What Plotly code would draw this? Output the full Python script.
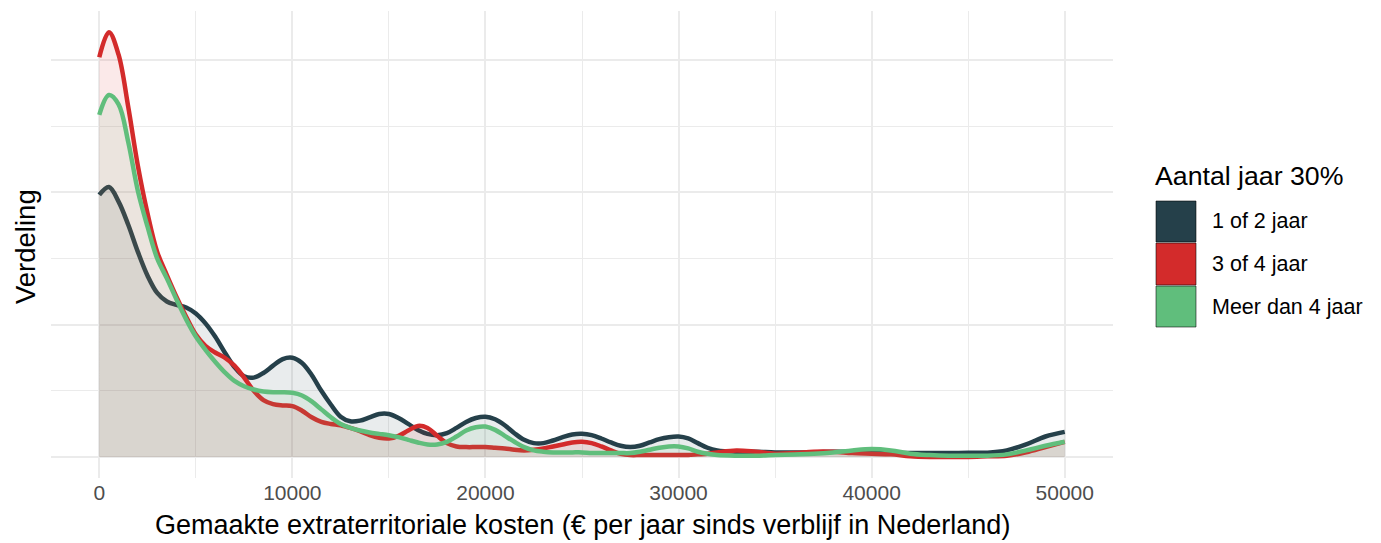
import plotly.graph_objects as go

# kosten-grid (x) en geschatte dichtheid per groep (y, willekeurige eenheid)
kosten = [0, 500, 1000, 1500, 2000, 2500, 3000, 3500, 4000, 4500,
          5000, 5500, 6000, 6500, 7000, 7500, 8000, 8500, 9000, 9500,
          10000, 10500, 11000, 11500, 12000, 12500, 13000, 13500, 14000, 14500,
          15000, 15500, 16000, 16500, 17000, 17500, 18000, 18500, 19000, 19500,
          20000, 20500, 21000, 21500, 22000, 22500, 23000, 23500, 24000, 24500,
          25000, 25500, 26000, 26500, 27000, 27500, 28000, 28500, 29000, 29500,
          30000, 30500, 31000, 31500, 32000, 33000, 34000, 35000, 36000, 37000,
          38000, 39000, 40000, 41000, 42000, 43000, 44000, 45000, 46000, 47000,
          48000, 49000, 50000]

jaar_1_2 = [3.96, 4.08, 3.86, 3.51, 3.10, 2.74, 2.48, 2.35, 2.30, 2.26,
            2.17, 2.02, 1.82, 1.58, 1.36, 1.22, 1.20, 1.27, 1.38, 1.48,
            1.50, 1.42, 1.24, 1.00, 0.79, 0.61, 0.54, 0.55, 0.60, 0.65,
            0.65, 0.59, 0.50, 0.41, 0.35, 0.33, 0.36, 0.44, 0.53, 0.59,
            0.61, 0.57, 0.48, 0.36, 0.26, 0.21, 0.21, 0.25, 0.30, 0.34,
            0.35, 0.33, 0.28, 0.22, 0.17, 0.15, 0.17, 0.22, 0.27, 0.30,
            0.31, 0.28, 0.21, 0.14, 0.10, 0.08, 0.08, 0.07, 0.07, 0.07,
            0.08, 0.08, 0.08, 0.07, 0.06, 0.06, 0.06, 0.065, 0.065, 0.10,
            0.19, 0.31, 0.38]

jaar_3_4 = [6.04, 6.42, 6.08, 5.29, 4.40, 3.68, 3.10, 2.75, 2.42, 2.12,
            1.85, 1.68, 1.58, 1.50, 1.38, 1.20, 1.00, 0.86, 0.80, 0.78,
            0.77, 0.70, 0.60, 0.53, 0.50, 0.48, 0.44, 0.39, 0.33, 0.29,
            0.28, 0.32, 0.40, 0.47, 0.44, 0.32, 0.21, 0.16, 0.15, 0.15,
            0.15, 0.14, 0.13, 0.11, 0.10, 0.11, 0.13, 0.16, 0.19, 0.22,
            0.23, 0.21, 0.16, 0.10, 0.05, 0.03, 0.03, 0.03, 0.03, 0.03,
            0.03, 0.03, 0.04, 0.05, 0.07, 0.10, 0.08, 0.05, 0.06, 0.08,
            0.08, 0.06, 0.05, 0.04, 0.01, 0.00, 0.00, 0.00, 0.01, 0.02,
            0.07, 0.15, 0.23]

meer_dan_4 = [5.17, 5.47, 5.33, 4.76, 4.02, 3.48, 3.00, 2.70, 2.38, 2.08,
              1.82, 1.62, 1.44, 1.28, 1.15, 1.07, 1.02, 0.99, 0.98, 0.98,
              0.97, 0.93, 0.84, 0.72, 0.60, 0.50, 0.44, 0.40, 0.37, 0.35,
              0.33, 0.30, 0.26, 0.22, 0.19, 0.19, 0.23, 0.31, 0.40, 0.45,
              0.46, 0.41, 0.32, 0.23, 0.15, 0.10, 0.08, 0.07, 0.07, 0.07,
              0.07, 0.06, 0.06, 0.06, 0.06, 0.06, 0.08, 0.11, 0.14, 0.16,
              0.16, 0.13, 0.08, 0.05, 0.03, 0.02, 0.02, 0.03, 0.04, 0.05,
              0.07, 0.10, 0.12, 0.10, 0.05, 0.03, 0.02, 0.02, 0.02, 0.04,
              0.10, 0.17, 0.23]

groepen = ["1 of 2 jaar", "3 of 4 jaar", "Meer dan 4 jaar"]
kleuren = ["#25404A", "#D32B2B", "#60BE7C"]
vulkleuren = ["rgba(37,64,74,0.1)", "rgba(211,43,43,0.1)", "rgba(96,190,124,0.1)"]

FONT = "Liberation Sans, Arial, sans-serif"
GRID = "#EBEBEB"

fig = go.Figure()
for naam, ys, kleur, vul in zip(groepen, [jaar_1_2, jaar_3_4, meer_dan_4], kleuren, vulkleuren):
    fig.add_trace(go.Scatter(
        x=kosten, y=ys, name=naam, mode="lines",
        line=dict(color=kleur, width=4.5, shape="spline", smoothing=1),
        fill="tozeroy", fillcolor=vul, showlegend=False,
    ))

# de pagina heeft 8px body-marge; alles in paginapixels rekenen
OFF = 8
W, H = 1381 - OFF, 543 - OFF
L, R, T, B = 51 - OFF, 268, 11 - OFF, 65
pw, ph = W - L - R, H - T - B

def px(x):
    return (x - OFF - L) / pw

def py(y):
    return (H - B - (y - OFF)) / ph

shapes = []
annotations = []
sleutel_y = [(201, 242), (243, 285), (286, 327)]
for (y0, y1), kleur, naam in zip(sleutel_y, kleuren, groepen):
    shapes.append(dict(type="rect", xref="paper", yref="paper",
                       x0=px(1156), x1=px(1196), y0=py(y1), y1=py(y0),
                       fillcolor=kleur, line=dict(color="rgba(0,0,0,0.55)", width=1)))
    annotations.append(dict(xref="paper", yref="paper", x=px(1210), y=py((y0 + y1) / 2),
                            text=naam, showarrow=False, xanchor="left", yanchor="middle",
                            font=dict(family=FONT, size=21.5, color="#000000")))
annotations.append(dict(xref="paper", yref="paper", x=px(1153), y=py(176),
                        text="Aantal jaar 30%", showarrow=False, xanchor="left", yanchor="middle",
                        font=dict(family=FONT, size=26.7, color="#000000")))

# as-titels
annotations.append(dict(xref="paper", yref="paper", x=0.5, y=py(525),
                        text="Gemaakte extraterritoriale kosten (€ per jaar sinds verblijf in Nederland)",
                        showarrow=False, xanchor="center", yanchor="middle",
                        font=dict(family=FONT, size=27, color="#000000")))
annotations.append(dict(xref="paper", yref="paper", x=px(25), y=py(247),
                        text="Verdeling", textangle=-90,
                        showarrow=False, xanchor="center", yanchor="middle",
                        font=dict(family=FONT, size=27.5, color="#000000")))

fig.update_layout(
    width=W, height=H,
    margin=dict(l=L, r=R, t=T, b=B),
    paper_bgcolor="white", plot_bgcolor="white",
    font=dict(family=FONT),
    shapes=shapes, annotations=annotations,
    showlegend=False,
)
fig.update_xaxes(
    range=[-2500, 52500], tickvals=[0, 10000, 20000, 30000, 40000, 50000],
    ticktext=["0", "10000", "20000", "30000", "40000", "50000"],
    showgrid=True, gridcolor=GRID, gridwidth=2, zeroline=False, showline=False,
    ticks="", tickfont=dict(family=FONT, size=21, color="#4D4D4D"),
    minor=dict(tickvals=[5000, 15000, 25000, 35000, 45000], showgrid=True, gridcolor=GRID, gridwidth=1.2),
)
fig.update_yaxes(
    range=[-0.317, 6.74], tickvals=[0, 2, 4, 6], showticklabels=False,
    showgrid=True, gridcolor=GRID, gridwidth=2, zeroline=False, showline=False, ticks="",
    minor=dict(tickvals=[1, 3, 5], showgrid=True, gridcolor=GRID, gridwidth=1.2),
)

fig.write_html("out.html")
